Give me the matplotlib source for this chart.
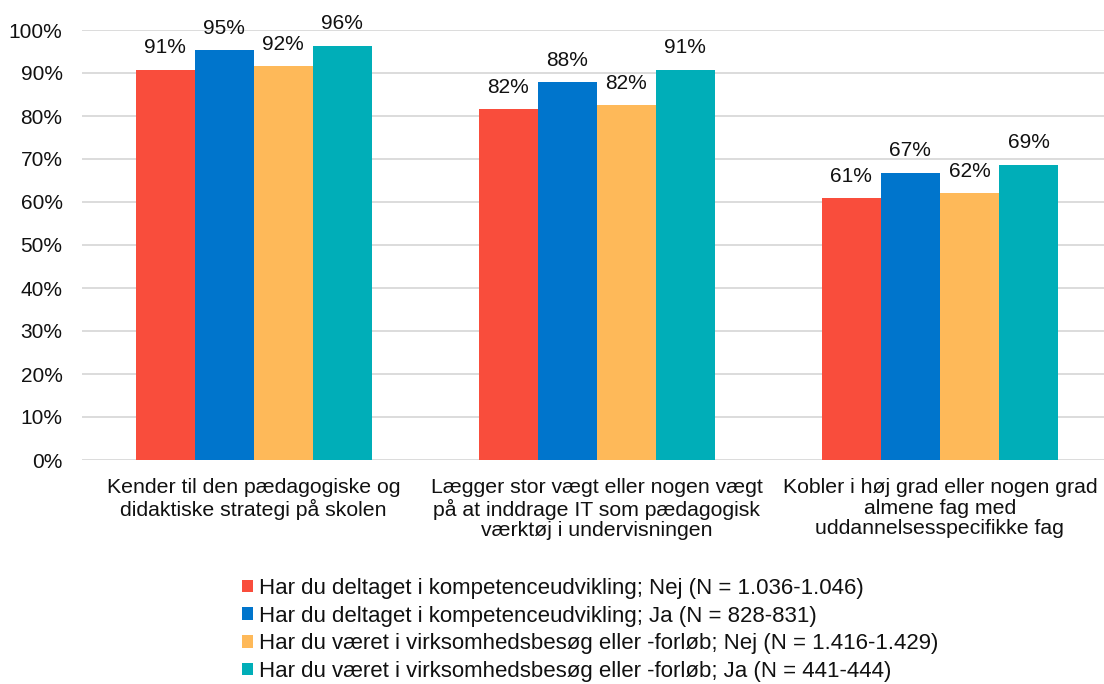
import numpy as np
import matplotlib.pyplot as plt

plt.rcParams['font.family'] = ['Liberation Sans', 'DejaVu Sans']

categories = [
    "Kender til den pædagogiske og\ndidaktiske strategi på skolen",
    "Lægger stor vægt eller nogen vægt\npå at inddrage IT som pædagogisk\nværktøj i undervisningen",
    "Kobler i høj grad eller nogen grad\nalmene fag med\nuddannelsesspecifikke fag",
]
series_names = [
    "Har du deltaget i kompetenceudvikling; Nej (N = 1.036-1.046)",
    "Har du deltaget i kompetenceudvikling; Ja (N = 828-831)",
    "Har du været i virksomhedsbesøg eller -forløb; Nej (N = 1.416-1.429)",
    "Har du været i virksomhedsbesøg eller -forløb; Ja (N = 441-444)",
]
komp_nej = [0.908, 0.816, 0.609]
komp_ja = [0.953, 0.878, 0.668]
virk_nej = [0.916, 0.825, 0.620]
virk_ja = [0.963, 0.908, 0.687]
colors = ['#F94D3C', '#0075CC', '#FEB959', '#00AEB8']

series = [komp_nej, komp_ja, virk_nej, virk_ja]

fig = plt.figure(figsize=(11.04, 6.84), dpi=100)
ax = fig.add_axes([82/1104, (684-460)/684, (1104-82)/1104, 430/684])

x = np.arange(len(categories))
w = 59/343
for i, (vals, c, name) in enumerate(zip(series, colors, series_names)):
    pos = x + (i - 1.5) * w
    bars = ax.bar(pos, vals, width=w, color=c, label=name, zorder=3)
    for b, v in zip(bars, vals):
        ax.annotate("{:.0%}".format(v), (b.get_x() + b.get_width()/2, v),
                    xytext=(0, 9), textcoords='offset points',
                    ha='center', va='bottom', fontsize=15, color='#111111')

ax.set_xlim(-0.5, 2 + (1104-940)/343)
ax.set_ylim(0, 1)
ax.set_yticks(np.arange(0, 1.01, 0.1))
ax.set_yticklabels(["{}%".format(int(round(t*100))) for t in np.arange(0, 1.01, 0.1)])
ax.set_xticks(x)
ax.set_xticklabels(categories, fontsize=15.3, linespacing=1.1)
ax.tick_params(axis='y', length=0, pad=14, labelsize=15, labelcolor='#111111')
ax.tick_params(axis='x', length=0, pad=13, labelcolor='#111111')
ax.yaxis.grid(True, color='#D9D9D9', linewidth=1.3, zorder=0)
for s in ax.spines.values():
    s.set_visible(False)

fig.legend(loc='upper left', bbox_to_anchor=(233/1104, 1 - 569/684), frameon=False,
           fontsize=16, handlelength=0.5, handleheight=0.5, handletextpad=0.25,
           labelspacing=0.3, borderaxespad=0, labelcolor='#111111')

fig.savefig('out.png', dpi=100)
